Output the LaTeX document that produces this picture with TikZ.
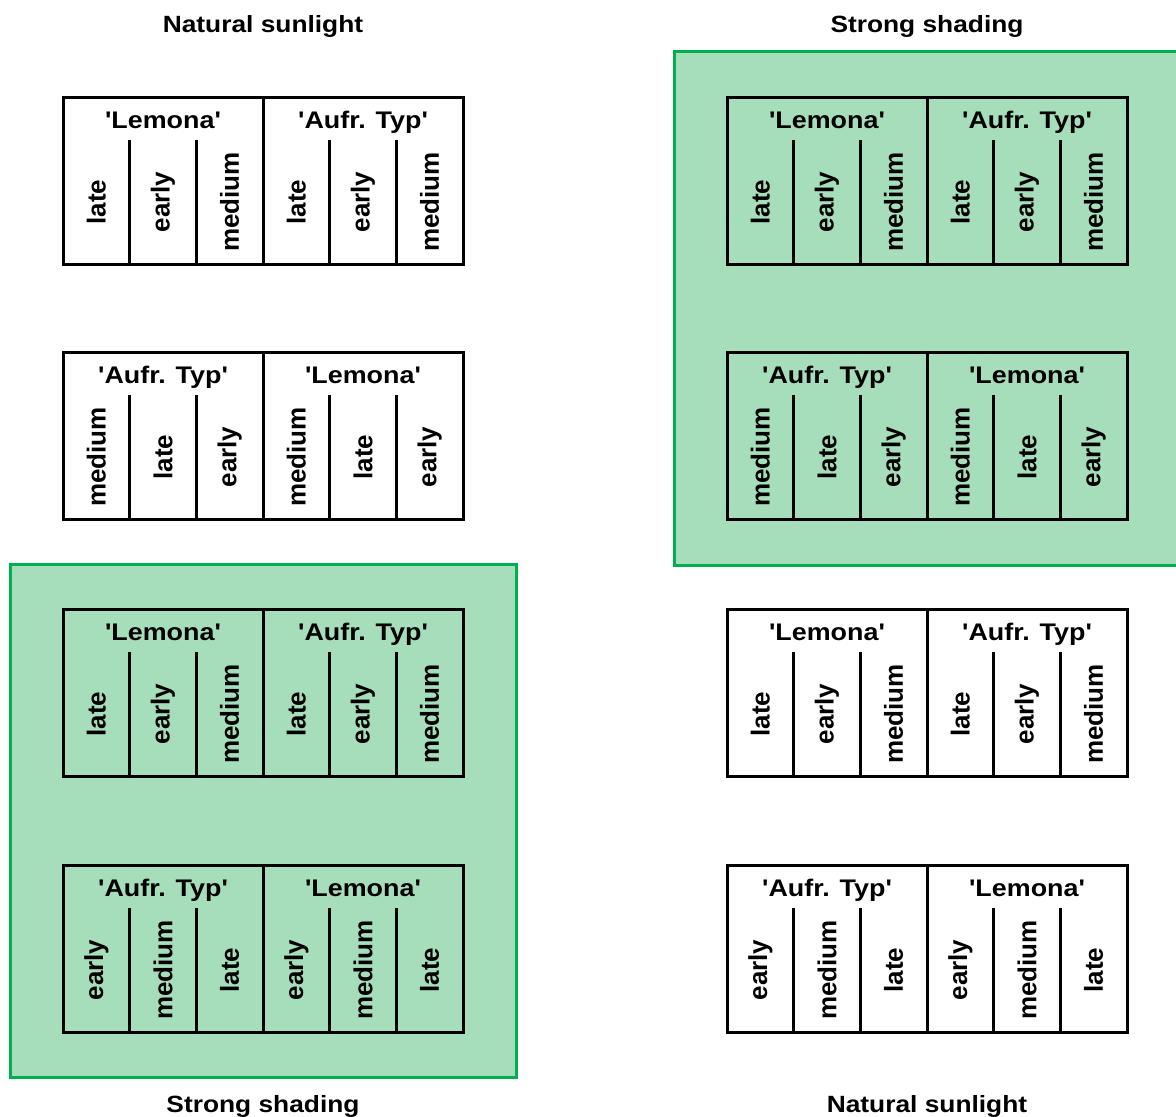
\documentclass[tikz,border=0pt]{standalone}
\usepackage{fontspec}
\setmainfont{Liberation Sans}
\definecolor{shadefill}{HTML}{A6DDBA}
\definecolor{shadeline}{HTML}{00B050}
\newcommand{\sq}{\textquotesingle}
\tikzset{
  frame/.style={line width=3pt, draw=black},
  shadebox/.style={line width=3pt, draw=shadeline, fill=shadefill},
  hdr/.style={font=\fontsize{24}{29}\selectfont\bfseries, inner sep=0pt, anchor=base, xscale=1.12},
  rot/.style={font=\fontsize{26}{31}\selectfont\bfseries, inner sep=0pt, rotate=90, anchor=center},
  ttl/.style={font=\fontsize{23.5}{28}\selectfont\bfseries, inner sep=0pt, anchor=base, xscale=1.12},
}
\newcommand{\blk}[6]{%
  \draw[frame] (#2,#3) rectangle ++(400,167);
  \draw[frame] (#2+200,#3) -- ++(0,167);
  \foreach \k in {1,2,4,5} {\draw[frame] (#2+\k*66.667,#3+43) -- ++(0,124);}
  \node[hdr] (#1h1) at (#2+100,#3+31) {#4};
  \node[hdr] (#1h2) at (#2+300,#3+31) {#5};
  \foreach \lab [count=\i] in {#6} {
    \node[rot] (#1a\i) at (#2+\i*66.667-33.333,#3+105) {\lab};
    \node[rot] (#1b\i) at (#2+200+\i*66.667-33.333,#3+105) {\lab};
  }
}
\begin{document}
\begin{tikzpicture}[x=1pt,y=-1pt]
\useasboundingbox (0,0) rectangle (1176,1117);
\fill[white] (0,0) rectangle (1176,1117);
% shaded areas
\draw[shadebox] (10,564) rectangle (516,1077);
\draw[shadebox] (674,51) rectangle (1177,565);
% titles
\node[ttl] (t1) at (263,32) {Natural sunlight};
\node[ttl] (t2) at (927,32) {Strong shading};
\node[ttl] (t3) at (263,1112) {Strong shading};
\node[ttl] (t4) at (927,1112) {Natural sunlight};
% left column
\blk{L1}{63}{97}{\sq Lemona\sq}{\sq Aufr. Typ\sq}{late,early,medium}
\blk{L2}{63}{352}{\sq Aufr. Typ\sq}{\sq Lemona\sq}{medium,late,early}
\blk{L3}{63}{609}{\sq Lemona\sq}{\sq Aufr. Typ\sq}{late,early,medium}
\blk{L4}{63}{865}{\sq Aufr. Typ\sq}{\sq Lemona\sq}{early,medium,late}
% right column
\blk{R1}{727}{97}{\sq Lemona\sq}{\sq Aufr. Typ\sq}{late,early,medium}
\blk{R2}{727}{352}{\sq Aufr. Typ\sq}{\sq Lemona\sq}{medium,late,early}
\blk{R3}{727}{609}{\sq Lemona\sq}{\sq Aufr. Typ\sq}{late,early,medium}
\blk{R4}{727}{865}{\sq Aufr. Typ\sq}{\sq Lemona\sq}{early,medium,late}
\end{tikzpicture}
\end{document}
